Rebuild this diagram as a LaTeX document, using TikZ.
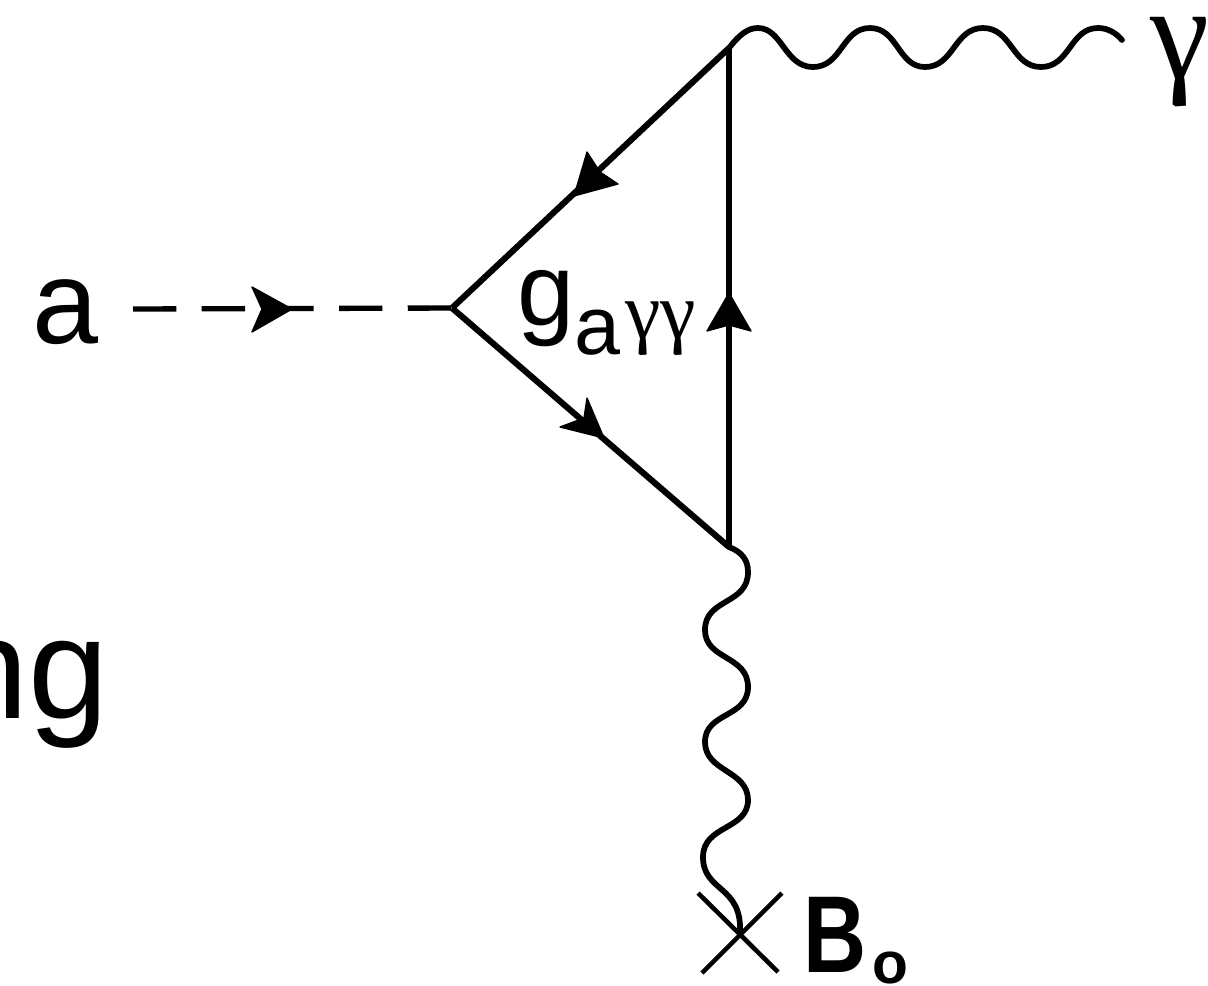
\documentclass[tikz,border=0pt]{standalone}
\usepackage{fontspec}
\setmainfont{Liberation Sans}
\newfontfamily\greekserif{Liberation Serif}
\tikzset{
 px/.style={x=0.02635cm,y=-0.02635cm},
 fermion/.style={line width=4.6pt,draw=black},
 thinline/.style={line width=4.2pt,draw=black},
 wavy/.style={line width=4.3pt,draw=black,line cap=round},
 crossarm/.style={line width=3.4pt,draw=black},
 headfill/.style={fill=black,draw=black,line width=1pt,line join=round},
 lab/.style={inner sep=0pt,text=black,anchor=base west}
}
\begin{document}
\begin{tikzpicture}[px]
\useasboundingbox (0,0) rectangle (1208,985);
\clip (0,0) rectangle (1208,985);
\coordinate (top) at (729,48);
\coordinate (left) at (452,308);
\coordinate (bot) at (729,547);
\coordinate (pe) at (1122,40);
\coordinate (cross) at (740,932);
\coordinate (ae) at (133,309);
\draw[fermion] (top) -- (left);
\draw[fermion] (left) -- (bot);
\draw[thinline] (bot) -- (top);
\fill[headfill] (574,196) -- (618,184) -- (600,172) -- (587,152) -- cycle;
\fill[headfill] (604,438) -- (587,398) -- (584,418) -- (560,427) -- cycle;
\fill[headfill] (729,293) -- (751,331) -- (729,325) -- (707,331) -- cycle;
\draw[line width=4pt,dash pattern=on 32.5pt off 19pt] (ae) -- (left);
\fill[headfill] (292,309) -- (252,287) -- (262,309) -- (252,332) -- cycle;
\node[lab,font=\fontsize{89}{89}\selectfont] (alab) at (32,343) {a};
\node[lab,font=\fontsize{77}{77}\selectfont] (glab) at (517,325) {g};
\node[lab,font=\fontsize{62}{62}\selectfont] (asub) at (574,354) {a};
\node[lab,font=\greekserif\fontsize{60}{60}\selectfont] (gsub) at (625,338) {γγ};
\node[lab,font=\greekserif\fontsize{100}{100}\selectfont] (gam) at (1150,78) {γ};
\node[lab,font=\fontsize{108}{108}\selectfont] (ng) at (-52,718) {ng};
\node[lab,font=\bfseries\fontsize{82}{82}\selectfont] (blab) at (803,972) {\scalebox{0.8}[1]{B}};
\node[lab,font=\bfseries\fontsize{44}{44}\selectfont] (osub) at (872,983) {o};
\draw[wavy] (top) .. controls (740,34) and (748,28) .. (758,28)
 .. controls (782,28) and (785,67) .. (813,67)
 .. controls (842,67) and (842,28) .. (870,28)
 .. controls (898,28) and (898,67) .. (925,67)
 .. controls (954,67) and (954,28) .. (983,28)
 .. controls (1012,28) and (1012,67) .. (1041,67)
 .. controls (1070,67) and (1070,28) .. (1098,28)
 .. controls (1108,28) and (1116,33) .. (pe);
\draw[wavy] (bot) .. controls (742,552) and (748,560) .. (748,572)
 .. controls (748,605) and (705,598) .. (705,630)
 .. controls (705,660) and (748,655) .. (748,687)
 .. controls (748,718) and (705,712) .. (705,742)
 .. controls (705,772) and (748,770) .. (748,800)
 .. controls (748,830) and (703,825) .. (703,857)
 .. controls (703,892) and (742,885) .. (cross);
\draw[crossarm] (698,893) -- (778,972);
\draw[crossarm] (782,893) -- (702,973);
\end{tikzpicture}
\end{document}
